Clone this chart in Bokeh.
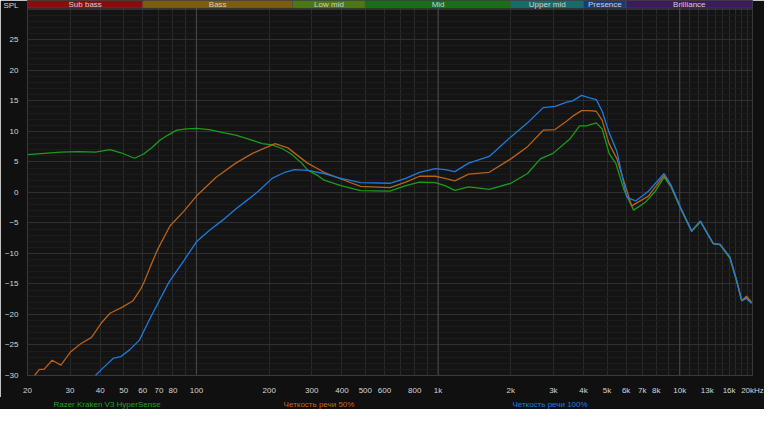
import math
from bokeh.plotting import figure
from bokeh.models import FixedTicker, Span, ColumnDataSource, Div
from bokeh.layouts import column
from bokeh.core.properties import value
from bokeh.embed import file_html
from bokeh.resources import INLINE

# ---------------- data ----------------
green_freq = [20, 23.4, 27.5, 32.5, 38.2, 43.9, 48.7, 55.5, 60.5, 65.7, 70.8, 76.2, 83, 91.3, 100,
              113, 129, 145.5, 164.3, 187.3, 205.7, 225.9, 247, 272.4, 288.2, 316.5, 337.8, 396, 478,
              632, 735, 838, 973, 1068, 1173, 1338, 1628, 2000, 2345, 2648, 2991, 3507, 3851, 4112,
              4515, 4776, 5100, 5445, 5869, 6444, 7211, 7919, 8615, 9198, 10100, 11195, 12177,
              13757, 14684, 16127, 17219, 18044, 18908, 19813]
green_spl = [6.2, 6.4, 6.6, 6.7, 6.6, 7.0, 6.5, 5.6, 6.3, 7.4, 8.6, 9.4, 10.2, 10.4, 10.5,
             10.3, 9.8, 9.4, 8.75, 8.0, 7.8, 7.2, 6.3, 4.8, 3.7, 2.8, 2.0, 1.1, 0.3,
             0.2, 1.1, 1.7, 1.6, 1.1, 0.35, 0.9, 0.5, 1.5, 3.1, 5.5, 6.4, 8.75, 10.9, 10.9,
             11.4, 10.4, 6.4, 4.7, 0.5, -2.9, -1.6, 0.2, 2.5, 0.9, -2.7, -6.4, -4.8,
             -8.4, -8.6, -10.8, -14.7, -17.8, -17.3, -18.1]

orange_freq = [21.4, 22.4, 23.4, 25.3, 27.5, 30.2, 33.2, 36.8, 40.4, 43.9, 49.6, 54.5, 58.7, 60.9,
               64.4, 68.8, 77.7, 88.6, 100, 120.7, 145.5, 170.6, 192.6, 211.6, 238.9, 288.2, 337.8,
               396, 478, 632, 735, 838, 973, 1068, 1173, 1338, 1628, 2000, 2345, 2724, 3048, 3410,
               3607, 3924, 4229, 4515, 4776, 5100, 5496, 6325, 7417, 8615, 9198, 10100, 11195,
               12177, 13757, 14684, 16127, 17219, 18044, 18908, 19813]
orange_spl = [-30, -29, -29, -27.5, -28.3, -26.1, -24.8, -23.75, -21.4, -19.8, -18.75, -17.8, -15.9, -14.6,
              -12.2, -9.5, -5.5, -3.1, -0.6, 2.5, 4.8, 6.4, 7.3, 8.0, 7.3, 4.8, 3.3,
              2.2, 1.0, 0.8, 1.7, 2.65, 2.65, 2.3, 1.9, 3.0, 3.3, 5.5, 7.5, 10.2, 10.3, 11.7,
              12.5, 13.4, 13.4, 13.3, 11.8, 8.0, 5.5, -2.2, -0.6, 2.8, 1.1, -2.6, -6.3,
              -4.7, -8.4, -8.5, -10.6, -14.5, -17.7, -17.0, -18.0]

blue_freq = [38.2, 41.1, 45.2, 48.7, 52.9, 58.1, 63.8, 70.1, 77, 88.6, 100, 113, 128.8, 145.5,
             164.3, 180.4, 205.7, 232.3, 255, 288.2, 337.8, 396, 478, 632, 735, 838, 973, 1068,
             1173, 1338, 1628, 2000, 2345, 2724, 3048, 3410, 3607, 3924, 4229, 4515, 4776, 5100,
             5496, 6036, 6566, 7417, 8615, 9198, 10100, 11195, 12177, 13757, 14684, 16127,
             17219, 18044, 18908, 19813]
blue_spl = [-30, -28.75, -27.2, -26.9, -25.8, -24.2, -20.9, -17.8, -14.7, -11.2, -8.1, -6.25, -4.5, -2.7,
            -1.1, 0.2, 2.3, 3.3, 3.75, 3.6, 3.1, 2.3, 1.6, 1.5, 2.3, 3.3, 3.9, 3.75,
            3.4, 4.8, 5.9, 9.1, 11.4, 13.9, 14.1, 14.8, 15.0, 15.9, 15.5, 15.2, 13.3, 9.8,
            6.7, -0.8, -1.4, 0.2, 3.1, 1.2, -2.6, -6.3, -4.7, -8.4, -8.5, -10.6,
            -14.5, -17.7, -17.4, -18.2]

series_names = ["Razer Kraken V3 HyperSense", "Четкость речи 50%", "Четкость речи 100%"]

band_names = ["Sub bass", "Bass", "Low mid", "Mid", "Upper mid", "Presence", "Brilliance"]
band_lo = [20, 60, 250, 500, 2000, 4000, 6000]
band_hi = [60, 250, 500, 2000, 4000, 6000, 20000]

x_ticks = [20, 30, 40, 50, 60, 70, 80, 100, 200, 300, 400, 500, 600, 800, 1000,
           2000, 3000, 4000, 5000, 6000, 7000, 8000, 10000, 13000, 16000, 20000]
x_tick_labels = ["20", "30", "40", "50", "60", "70", "80", "100", "200", "300", "400", "500", "600",
                 "800", "1k", "2k", "3k", "4k", "5k", "6k", "7k", "8k", "10k", "13k", "16k", "20kHz"]
x_minor = [90, 700, 900, 9000, 11000, 12000, 14000, 15000, 17000, 18000, 19000]
x_decades = [100, 1000, 10000]
y_ticks = [-30, -25, -20, -15, -10, -5, 0, 5, 10, 15, 20, 25]
y_minor = list(range(-30, 31))
y_title = "SPL"

# ---------------- style ----------------
FONT = "Liberation Sans"
BG = "#141414"
BORDER = "#101010"
line_colors = ["#1c9c1c", "#b8611a", "#1e7bdc"]
text_colors = ["#1fa51f", "#c8661c", "#1f7ee0"]
band_colors = ["#8a0d0d", "#7d5b10", "#4b7913", "#176f17", "#176b6b", "#173b79", "#3b1b5d"]
Y_TOP = 31.45
BAND_BOTTOM = 30.2
SPL_POS = 30.8
W = 764

fig = figure(width=W, height=397, x_axis_type="log", x_range=(20, 20000), y_range=(-30, Y_TOP),
             output_backend="svg", toolbar_location=None,
             min_border_left=20, min_border_right=12, min_border_top=0, min_border_bottom=15)
fig.background_fill_color = BG
fig.border_fill_color = BORDER
fig.outline_line_color = "#3a3a3a"

# grids / axes
fig.xaxis.ticker = FixedTicker(ticks=x_ticks)
fig.yaxis.ticker = FixedTicker(ticks=y_ticks + [SPL_POS])
fig.xgrid.ticker = FixedTicker(ticks=x_ticks, minor_ticks=x_minor)
fig.ygrid.ticker = FixedTicker(ticks=y_ticks + [30], minor_ticks=y_minor)
fig.xgrid.grid_line_color = "#2a2a2a"
fig.xgrid.minor_grid_line_color = "#2a2a2a"
fig.ygrid.grid_line_color = "#303030"
fig.ygrid.minor_grid_line_color = "#1c1c1c"
fig.xaxis.major_label_overrides = {t: l for t, l in zip(x_ticks, x_tick_labels)}
fig.yaxis.major_label_overrides = {SPL_POS: y_title}
for ax in (fig.xaxis, fig.yaxis):
    ax.axis_line_color = None
    ax.major_tick_line_color = None
    ax.minor_tick_line_color = None
    ax.major_label_text_font = FONT
    ax.major_label_text_font_size = "8px"
    ax.major_label_text_color = "#d6d6d6"
fig.xaxis.major_label_standoff = 4
fig.yaxis.major_label_standoff = 3

for f in x_decades:
    fig.add_layout(Span(location=f, dimension="height", line_color="#4a4a4a", line_width=1, level="underlay"))

# frequency bands
bsrc = ColumnDataSource(dict(left=band_lo, right=band_hi, name=band_names, color=band_colors,
                             xc=[math.sqrt(a * b) for a, b in zip(band_lo, band_hi)]))
fig.quad(left="left", right="right", bottom=BAND_BOTTOM, top=Y_TOP, fill_color="color",
         line_color="#505050", line_width=0.6, source=bsrc)
fig.text(x="xc", y=(BAND_BOTTOM + Y_TOP) / 2, text="name", source=bsrc, text_align="center",
         text_baseline="middle", text_font=value(FONT), text_font_size="8px", text_color="#cfcfcf")

# curves
for fx, fy, c in [(green_freq, green_spl, line_colors[0]),
                  (orange_freq, orange_spl, line_colors[1]),
                  (blue_freq, blue_spl, line_colors[2])]:
    fig.line(fx, fy, line_color=c, line_width=1.3)

# legend row (HTML text under the plot)
legend_x = [107, 319, 550]
spans = "".join(
    f'<span style="position:absolute;left:{lx}px;top:0;transform:translateX(-50%);'
    f'white-space:nowrap;color:{c}">{n}</span>'
    for n, c, lx in zip(series_names, text_colors, legend_x))
legend = Div(text=(f'<div style="position:relative;width:{W}px;height:9px;background:{BORDER};'
                   f"font-family:'{FONT}';font-size:8px;line-height:9px;\">{spans}</div>"),
             width=W, height=9, margin=0, styles={"background-color": BORDER})

p = column(fig, legend, spacing=0, margin=0)

open("out.html", "w").write(file_html(p, INLINE))
